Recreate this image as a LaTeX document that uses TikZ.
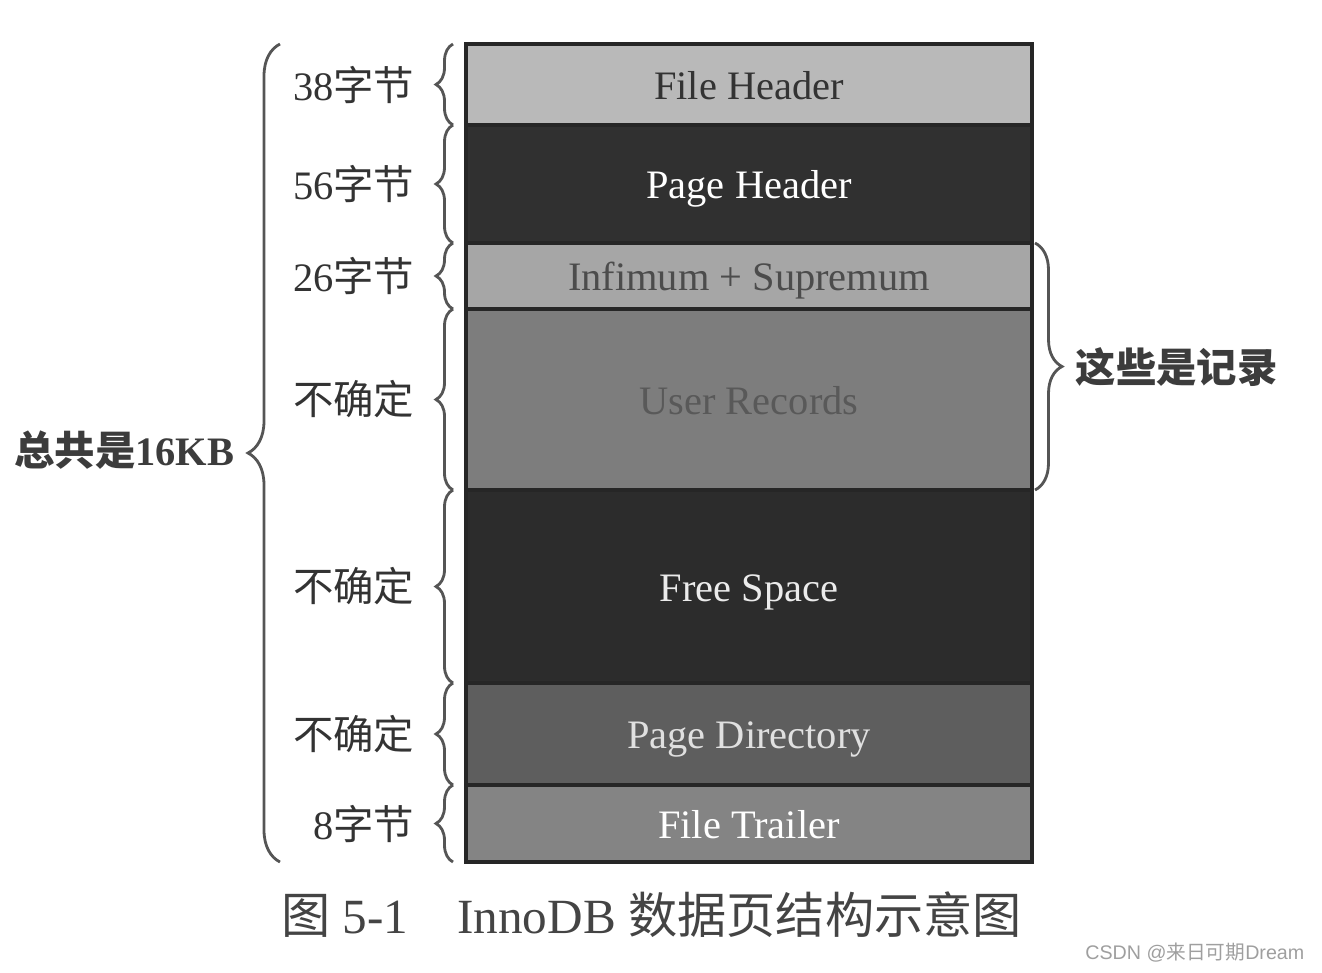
\documentclass[tikz,border=0pt]{standalone}
\usepackage{fontspec}
\setmainfont{Liberation Serif}
\newfontfamily\cjk{Noto Sans CJK SC}
\newfontfamily\wmfont{Liberation Sans}
\usepackage{tikz}
\usetikzlibrary{positioning,decorations.pathreplacing}

\definecolor{fhgray}{HTML}{B9B9B9}
\definecolor{phgray}{HTML}{303030}
\definecolor{infgray}{HTML}{A6A6A6}
\definecolor{urgray}{HTML}{7D7D7D}
\definecolor{fsgray}{HTML}{2C2C2C}
\definecolor{pdgray}{HTML}{5E5E5E}
\definecolor{ftgray}{HTML}{848484}
\definecolor{txtdark}{HTML}{333333}
\definecolor{boldgray}{HTML}{3C3C3C}
\definecolor{bracegray}{HTML}{555555}
\definecolor{capgray}{HTML}{444444}

\newcommand{\zj}{{\cjk 字节}}
\newcommand{\bqd}{{\cjk 不确定}}

\tikzset{
    cell/.style={draw=black!85, line width=0.9pt, minimum width=5.66cm,
        inner sep=0pt, outer sep=0pt, text height=0.9em, text depth=0.07em,
        font=\fontsize{11.5}{13}\selectfont},
    lab/.style={inner sep=0pt, text=txtdark, font=\fontsize{11.5}{13}\selectfont},
    lbrace/.style={decorate, decoration={brace, amplitude=0.17cm},
        draw=bracegray, line width=0.8pt},
}

\begin{document}
\begin{tikzpicture}
    \useasboundingbox (0,0) rectangle (13.22,-9.72);

    % page layout
    \node[cell, fill=fhgray, text=txtdark, minimum height=0.81cm] (fh) at (7.49,-0.845) {File Header};
    \node[cell, fill=phgray, text=white, minimum height=1.18cm, below=0cm of fh] (ph) {Page Header};
    \node[cell, fill=infgray, text=black!70, minimum height=0.66cm, below=0cm of ph] (inf) {Infimum + Supremum};
    \node[cell, fill=urgray, text=black!65, minimum height=1.81cm, below=0cm of inf] (ur) {User Records};
    \node[cell, fill=fsgray, text=white!92!black, minimum height=1.93cm, below=0cm of ur] (fs) {Free Space};
    \node[cell, fill=pdgray, text=white!88!black, minimum height=1.02cm, below=0cm of fs] (pd) {Page Directory};
    \node[cell, fill=ftgray, text=white, minimum height=0.77cm, below=0cm of pd] (ft) {File Trailer};

    % sizes on the left
    \draw[lbrace] ([xshift=-0.13cm]fh.south west) -- ([xshift=-0.13cm]fh.north west);
    \draw[lbrace] ([xshift=-0.13cm]ph.south west) -- ([xshift=-0.13cm]ph.north west);
    \draw[lbrace] ([xshift=-0.13cm]inf.south west) -- ([xshift=-0.13cm]inf.north west);
    \draw[lbrace] ([xshift=-0.13cm]ur.south west) -- ([xshift=-0.13cm]ur.north west);
    \draw[lbrace] ([xshift=-0.13cm]fs.south west) -- ([xshift=-0.13cm]fs.north west);
    \draw[lbrace] ([xshift=-0.13cm]pd.south west) -- ([xshift=-0.13cm]pd.north west);
    \draw[lbrace] ([xshift=-0.13cm]ft.south west) -- ([xshift=-0.13cm]ft.north west);

    \node[lab, left=0.51cm of fh.west] (szfh) {38\zj};
    \node[lab, left=0.51cm of ph.west] (szph) {56\zj};
    \node[lab, left=0.51cm of inf.west] (szinf) {26\zj};
    \node[lab, left=0.51cm of ur.west] (szur) {\bqd};
    \node[lab, left=0.51cm of fs.west] (szfs) {\bqd};
    \node[lab, left=0.51cm of pd.west] (szpd) {\bqd};
    \node[lab, left=0.51cm of ft.west] (szft) {8\zj};

    % whole page
    \draw[lbrace, decoration={amplitude=0.32cm}] ([xshift=-1.86cm]ft.south west) -- ([xshift=-1.86cm]fh.north west);
    \node[lab, anchor=east, text=boldgray, font=\fontsize{11.5}{13}\selectfont\bfseries] (total) at (2.35,-4.50) {{\cjk\bfseries 总共是}16KB};

    % records
    \draw[lbrace, decoration={amplitude=0.27cm}] ([xshift=0.03cm]inf.north east) -- ([xshift=0.03cm]ur.south east);
    \node[lab, anchor=west, text=boldgray] (rec) at (10.75,-3.67) {\cjk\bfseries 这些是记录};

    \node[text=capgray, font=\fontsize{14}{16}\selectfont] (cap) at (6.515,-9.15) {{\cjk 图} 5-1\quad InnoDB {\cjk 数据页结构示意图}};
    \node[anchor=east, inner sep=0pt, text=gray!75, font=\wmfont\fontsize{5.6}{7}\selectfont] (wm) at (13.05,-9.53) {CSDN @{\cjk 来日可期}Dream};
\end{tikzpicture}
\end{document}
